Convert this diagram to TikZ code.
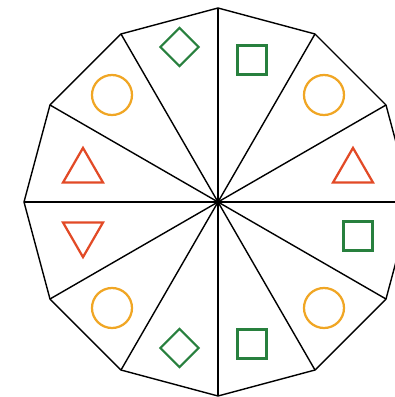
\documentclass[tikz,border=0pt]{standalone}
\usepackage{tikz}
\usetikzlibrary{shapes.geometric}
\usepackage{xcolor}

\definecolor{boxgreen}{RGB}{40,128,62}
\definecolor{ringorange}{RGB}{240,166,36}
\definecolor{trired}{RGB}{226,74,38}

\begin{document}
\begin{tikzpicture}[
    x=0.025cm, y=0.025cm,
    spoke/.style={draw=black, line width=1pt, line join=round},
    ring/.style={circle, draw=ringorange, line width=1.6pt, minimum size=1cm, inner sep=0pt},
    box/.style={rectangle, draw=boxgreen, line width=1.6pt, minimum size=0.72cm, inner sep=0pt},
    gem/.style={diamond, draw=boxgreen, line width=1.6pt, minimum size=0.98cm, inner sep=0pt},
    tri/.style={regular polygon, regular polygon sides=3, draw=trired, line width=1.6pt, minimum size=1.155cm, inner sep=0pt},
    tridown/.style={tri, shape border rotate=180}
]

% Frame
\useasboundingbox (-218,-195) rectangle (177,202);
\clip (-218,-195) rectangle (177,202);

% Centre and corners
\coordinate (c) at (0,0);
\foreach \i in {0,...,11}
  \coordinate (v\i) at ({90-30*\i}:194);

% Outline
\draw[spoke] (v0) -- (v1) -- (v2) -- (v3) -- (v4) -- (v5) -- (v6)
  -- (v7) -- (v8) -- (v9) -- (v10) -- (v11) -- cycle;

% Spokes
\foreach \i in {0,...,11}
  \draw[spoke] (c) -- (v\i);

% Shapes, clockwise from the top
\node[box] (boxN) at (34,142) {};
\node[ring] (ringNE) at (106,107) {};
\node[tri] (triE) at (135,31) {};
\node[box] (boxE) at (140,-34) {};
\node[ring] (ringSE) at (106,-106) {};
\node[box] (boxS) at (34,-142) {};
\node[gem] (gemS) at (-38.5,-146) {};
\node[ring] (ringSW) at (-106,-106) {};
\node[tridown] (triSW) at (-135,-32) {};
\node[tri] (triW) at (-135,31) {};
\node[ring] (ringNW) at (-106,107) {};
\node[gem] (gemN) at (-38.5,155) {};

\end{tikzpicture}
\end{document}
